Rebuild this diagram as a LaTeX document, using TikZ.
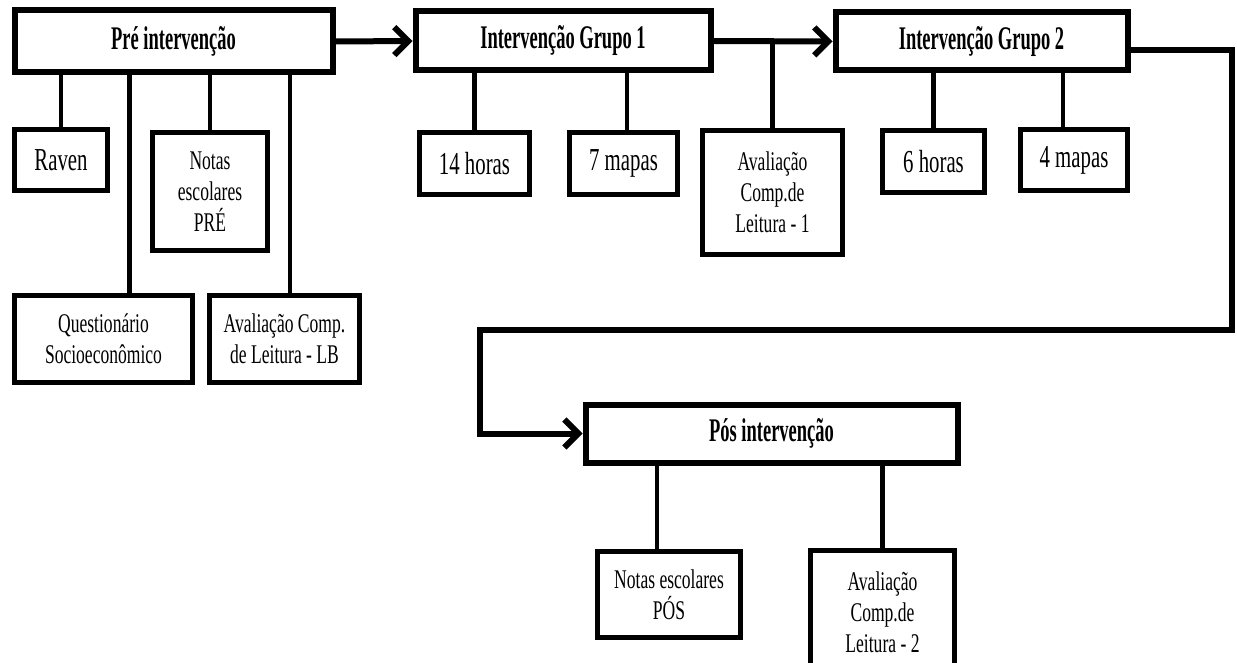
\documentclass[tikz,border=0pt]{standalone}
\usepackage{fontspec}
\setmainfont[FakeStretch=0.65,BoldFeatures={FakeStretch=0.56}]{Liberation Serif}
\usetikzlibrary{arrows.meta}

\tikzstyle{arrow} = [line width=3pt,-{Straight Barb[length=7pt,width=14pt]}]
\tikzstyle{link} = [line width=2.4pt]
\tikzstyle{box} = [draw,line width=2.6pt,align=center,inner sep=0pt,font=\fontsize{13.5}{15.5}\selectfont]
\tikzstyle{bigbox} = [box,font=\fontsize{16}{18}\selectfont]
\tikzstyle{stage} = [box,line width=3pt,font=\bfseries\fontsize{16.5}{18}\selectfont]

\begin{document}
\begin{tikzpicture}[x=0.5pt,y=-0.5pt]
\useasboundingbox (0,0) rectangle (1237,663);

% Stages
\node [stage,minimum width=159pt,minimum height=31pt] (pre) at (173.5,41.5) {Pré intervenção};
\node [stage,minimum width=147.5pt,minimum height=29.5pt] (g1) at (563,41) {Intervenção Grupo 1};
\node [stage,minimum width=146pt,minimum height=29pt] (g2) at (981.5,41.5) {Intervenção Grupo 2};
\node [stage,minimum width=186pt,minimum height=29pt] (pos) at (771.5,433.5) {Pós intervenção};

% Pre intervencao
\node [bigbox,minimum width=46.5pt,minimum height=30.5pt] (raven) at (61,160) {Raven};
\node [box,minimum width=57.5pt,minimum height=59pt] (notaspre) at (210,191.5) {Notas\\escolares\\PRÉ};
\node [box,minimum width=89pt,minimum height=43.5pt] (quest) at (103.5,339) {Questionário\\Socioeconômico};
\node [box,minimum width=75pt,minimum height=43.5pt] (avallb) at (284.5,339) {Avaliação Comp.\\de Leitura - LB};

% Grupo 1
\node [bigbox,minimum width=55pt,minimum height=31pt] (h14) at (474.5,163.5) {14 horas};
\node [bigbox,minimum width=54pt,minimum height=31pt] (m7) at (623.5,163.5) {7 mapas};
\node [box,minimum width=70pt,minimum height=62pt] (aval1) at (772.5,192.5) {Avaliação\\Comp.de\\Leitura - 1};

% Grupo 2
\node [bigbox,minimum width=51pt,minimum height=31pt] (h6) at (933.5,161.5) {6 horas};
\node [bigbox,minimum width=53.5pt,minimum height=30.5pt] (m4) at (1074,160) {4 mapas};

% Pos intervencao
\node [box,minimum width=71.5pt,minimum height=43pt] (notaspos) at (669,594.5) {Notas escolares\\PÓS};
\node [box,minimum width=72pt,minimum height=62pt] (aval2) at (882.5,612.5) {Avaliação\\Comp.de\\Leitura - 2};

% links
\draw [link] (raven.north |- pre.south) -- (raven.north);
\draw [link] (notaspre.north |- pre.south) -- (notaspre.north);
\draw [link] ([xshift=13pt]quest.north |- pre.south) -- ([xshift=13pt]quest.north);
\draw [link] ([xshift=2.75pt]avallb.north |- pre.south) -- ([xshift=2.75pt]avallb.north);
\draw [link] (h14.north |- g1.south) -- (h14.north);
\draw [link] ([xshift=1.75pt]m7.north |- g1.south) -- ([xshift=1.75pt]m7.north);
\draw [link] (aval1.north |- g1.east) -- (aval1.north);
\draw [link] (h6.north |- g2.south) -- (h6.north);
\draw [link] ([xshift=-5.5pt]m4.north |- g2.south) -- ([xshift=-5.5pt]m4.north);
\draw [link] ([xshift=-6pt]notaspos.north |- pos.south) -- ([xshift=-6pt]notaspos.north);
\draw [link] (aval2.north |- pos.south) -- (aval2.north);

% arrows
\draw [arrow] (pre.east) -- (g1.west);
\draw [arrow] (g1.east) -- (g2.west);
\coordinate (turnR) at (1232,330);
\coordinate (turnL) at (480,330);
\draw [arrow] ([yshift=-4.5pt]g2.east) -| (turnR) -- (turnL) |- (pos.west);

\end{tikzpicture}
\end{document}
